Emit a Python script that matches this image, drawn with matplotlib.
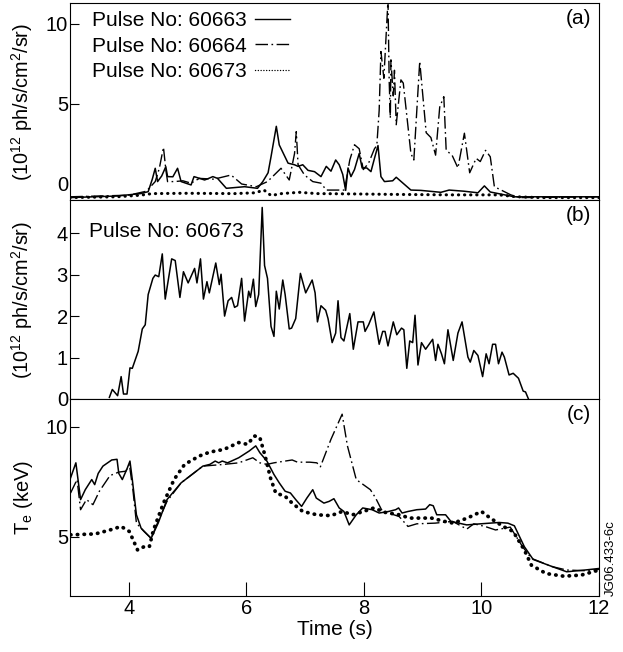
import matplotlib
matplotlib.use("Agg")
import matplotlib.pyplot as plt

plt.rcParams['font.family'] = ['Liberation Sans', 'DejaVu Sans']
plt.rcParams['mathtext.fontset'] = 'custom'
plt.rcParams['mathtext.rm'] = 'Liberation Sans'
plt.rcParams['mathtext.it'] = 'Liberation Sans:italic'
plt.rcParams['font.size'] = 14.5

# ---- panel (a): emission, three pulses ----
a_t_60663 = [3.0, 3.8, 4.2, 4.33, 4.40, 4.45, 4.49, 4.56, 4.63, 4.66, 4.75, 4.83, 4.89, 5.06,
             5.11, 5.29, 5.36, 5.43, 5.51, 5.66, 5.97, 6.19, 6.28, 6.37, 6.42, 6.51, 6.56,
             6.71, 6.82, 6.88, 6.96, 7.05, 7.16, 7.27, 7.36, 7.44, 7.52, 7.58, 7.64, 7.69,
             7.73, 7.78, 7.84, 7.92, 7.97, 8.05, 8.12, 8.18, 8.24, 8.29, 8.35, 8.49, 8.55,
             8.80, 8.97, 9.31, 9.45, 9.70, 9.94, 10.05, 10.15, 10.56, 12.0]
a_v_60663 = [-0.85, -0.75, -0.6, -0.48, 0.3, 0.98, 0.15, 0.5, 1.08, 0.46, 0.45, 0.98, 0.15, -0.06,
             0.46, 0.25, 0.35, 0.46, 0.35, -0.27, -0.17, -0.27, 0.15, 0.7, 1.7, 3.6, 2.44,
             1.3, 1.2, 1.1, 1.2, 0.85, 0.77, 0.46, 1.1, 0.8, 1.5, 1.2, 0.6, -0.4,
             1.0, 0.46, 0.9, 1.9, 1.0, 1.0, 0.77, 1.6, 2.4, 0.46, 0.15, 0.2, 0.42,
             -0.38, -0.4, -0.52, -0.38, -0.45, -0.55, -0.12, -0.5, -0.8, -0.8]

a_t_60664 = [3.0, 4.0, 4.3, 4.45, 4.52, 4.59, 4.63, 4.66, 4.78, 4.92, 5.06, 5.2, 5.45, 5.74,
             5.92, 6.17, 6.36, 6.59, 6.73, 6.82, 6.85, 6.88, 6.99, 7.13, 7.27, 7.36, 7.67,
             7.76, 7.84, 7.92, 7.99, 8.08, 8.18, 8.22, 8.26, 8.29, 8.34, 8.38, 8.41, 8.43,
             8.45, 8.46, 8.50, 8.52, 8.55, 8.63, 8.67, 8.80, 8.85, 8.95, 9.06, 9.14, 9.22,
             9.29, 9.36, 9.40, 9.50, 9.60, 9.71, 9.80, 9.91, 9.98, 10.07, 10.15, 10.22,
             10.50, 10.65, 12.0]
a_v_60664 = [-0.8, -0.7, -0.45, 0.15, 0.98, 2.29, 0.9, 0.15, 0.15, 0.2, 0.05, 0.35, 0.3, 0.56,
             0.0, -0.17, 0.15, 0.98, 0.25, 1.9, 3.27, 1.2, 0.56, 0.15, 0.05, -0.38, -0.38,
             1.5, 2.45, 2.2, 0.9, 1.3, 2.2, 2.4, 4.6, 8.27, 6.6, 9.4, 11.5, 6.5,
             4.1, 7.75, 5.5, 7.1, 3.7, 6.5, 6.3, 1.9, 1.5, 7.65, 3.2, 2.9, 1.8,
             4.8, 5.45, 2.1, 1.8, 1.0, 3.17, 0.7, 1.6, 1.4, 2.1, 1.7, -0.17,
             -0.68, -0.85, -0.8]

a_t_60673 = [3.0, 3.8, 4.2, 4.4, 5.0, 5.8, 6.15, 6.3, 6.42, 6.6, 6.9, 7.2, 7.8, 8.5, 9.5,
             10.3, 10.6, 11.0, 12.0]
a_v_60673 = [-0.85, -0.8, -0.7, -0.6, -0.58, -0.6, -0.55, -0.38, -0.72, -0.6, -0.52, -0.6,
             -0.62, -0.65, -0.68, -0.68, -0.8, -0.85, -0.85]

# ---- panel (b): emission, pulse 60673 ----
b_t = [3.67, 3.72, 3.81, 3.87, 3.91, 3.97, 4.02, 4.06, 4.16, 4.23, 4.28, 4.33, 4.41, 4.45,
       4.51, 4.57, 4.62, 4.73, 4.79, 4.87, 4.93, 5.01, 5.12, 5.16, 5.22, 5.27, 5.33, 5.37,
       5.48, 5.54, 5.57, 5.63, 5.69, 5.75, 5.80, 5.85, 5.92, 5.97, 6.04, 6.07, 6.12, 6.16,
       6.21, 6.27, 6.31, 6.36, 6.42, 6.47, 6.51, 6.56, 6.62, 6.66, 6.73, 6.77, 6.84, 6.92,
       7.01, 7.12, 7.17, 7.21, 7.27, 7.35, 7.39, 7.46, 7.52, 7.56, 7.61, 7.66, 7.76, 7.82,
       7.90, 7.99, 8.02, 8.08, 8.17, 8.26, 8.32, 8.36, 8.41, 8.50, 8.56, 8.64, 8.68, 8.73,
       8.78, 8.83, 8.87, 8.92, 8.98, 9.05, 9.11, 9.17, 9.22, 9.26, 9.32, 9.37, 9.43, 9.52,
       9.60, 9.67, 9.77, 9.81, 9.87, 9.94, 10.02, 10.08, 10.13, 10.19, 10.24, 10.29, 10.35,
       10.39, 10.47, 10.54, 10.63, 10.71, 10.75, 10.80]
b_v = [0.04, 0.23, 0.08, 0.54, 0.12, 0.12, 0.75, 0.74, 1.15, 1.69, 1.79, 2.52, 2.91, 2.99,
       2.95, 3.50, 2.41, 3.38, 3.34, 2.45, 3.07, 2.80, 3.15, 2.80, 3.38, 2.41, 2.83, 2.56,
       3.28, 2.76, 3.01, 2.00, 2.37, 2.45, 2.21, 2.25, 2.91, 1.88, 2.60, 2.45, 2.89, 2.23,
       2.52, 4.62, 3.22, 2.91, 1.75, 1.51, 2.60, 2.17, 2.87, 2.52, 1.69, 1.71, 1.94, 3.03,
       2.56, 2.87, 2.56, 1.86, 2.25, 2.14, 1.94, 1.36, 1.59, 2.37, 1.48, 1.40, 2.06, 1.20,
       1.86, 1.86, 1.63, 1.79, 2.10, 1.32, 1.63, 1.63, 1.28, 1.86, 1.55, 1.71, 1.67, 0.74,
       1.40, 1.36, 2.02, 0.82, 1.36, 1.20, 1.32, 1.44, 0.93, 1.32, 1.09, 0.85, 1.67, 0.93,
       1.59, 1.86, 1.01, 0.89, 1.17, 1.05, 0.54, 1.09, 0.85, 1.32, 1.32, 0.85, 1.13,
       1.01, 0.58, 0.62, 0.50, 0.19, 0.17, 0.0]

# ---- panel (c): electron temperature ----
c_t_60663 = [3.01, 3.10, 3.18, 3.26, 3.37, 3.42, 3.48, 3.56, 3.71, 3.80, 3.83, 3.89, 3.97, 4.02,
             4.06, 4.13, 4.21, 4.38, 4.50, 4.65, 4.89, 5.26, 5.38, 5.47, 5.53, 5.59, 5.68,
             5.87, 6.05, 6.16, 6.23, 6.35, 6.47, 6.56, 6.66, 6.75, 6.84, 6.94, 7.03, 7.13,
             7.19, 7.32, 7.41, 7.49, 7.58, 7.66, 7.75, 7.87, 7.98, 8.14, 8.26, 8.42, 8.54,
             8.59, 8.65, 8.75, 8.90, 9.05, 9.12, 9.18, 9.24, 9.39, 9.48, 9.75, 9.99, 10.30,
             10.45, 10.56, 10.73, 10.88, 11.21, 11.45, 11.76, 12.0]
c_v_60663 = [7.67, 8.35, 6.68, 7.13, 7.59, 7.36, 7.87, 8.20, 8.48, 8.51, 7.87, 7.59, 8.08, 8.43,
             7.59, 5.99, 5.38, 4.92, 5.61, 6.68, 7.44, 8.20, 8.28, 8.43, 8.35, 8.43, 8.35,
             8.58, 8.89, 9.12, 8.81, 8.43, 7.82, 7.44, 7.06, 6.98, 6.68, 6.37, 6.75, 7.13,
             6.75, 6.52, 6.60, 6.72, 6.30, 6.14, 5.53, 5.99, 6.30, 6.22, 6.07, 6.14, 6.22,
             6.30, 6.07, 6.14, 6.22, 6.25, 6.45, 6.40, 5.99, 5.99, 5.69, 5.53, 5.58, 5.64,
             5.61, 5.49, 4.54, 3.96, 3.63, 3.40, 3.48, 3.55]

c_t_60664 = [3.01, 3.12, 3.18, 3.28, 3.39, 3.50, 3.68, 3.83, 3.95, 4.01, 4.07, 4.13, 4.26, 4.38,
             4.50, 4.65, 4.89, 5.26, 5.62, 5.87, 6.11, 6.23, 6.35, 6.47, 6.78, 6.87, 7.08,
             7.20, 7.26, 7.44, 7.63, 7.72, 7.87, 7.99, 8.11, 8.20, 8.30, 8.42, 8.60, 8.75,
             8.90, 9.21, 9.51, 9.75, 9.87, 10.06, 10.24, 10.49, 10.70, 10.85, 11.21, 11.45,
             11.76, 12.0]
c_v_60664 = [6.98, 7.59, 6.22, 6.68, 6.45, 7.06, 7.77, 7.93, 7.97, 8.28, 7.13, 5.61, 5.23, 4.92,
             5.69, 6.60, 7.44, 8.20, 8.28, 8.35, 8.58, 8.35, 8.28, 8.35, 8.48, 8.38, 8.38,
             8.35, 8.17, 9.42, 10.56, 9.12, 7.59, 7.36, 7.13, 6.75, 6.22, 6.07, 5.91, 5.46,
             5.58, 5.61, 5.69, 5.34, 5.58, 5.46, 5.30, 5.43, 4.54, 4.01, 3.63, 3.48,
             3.45, 3.51]

c_t_60673 = [3.01, 3.43, 3.68, 3.87, 4.01, 4.15, 4.26, 4.35, 4.42, 4.59, 4.77, 4.95, 5.20, 5.38,
             5.62, 5.87, 6.02, 6.14, 6.23, 6.32, 6.41, 6.50, 6.66, 6.78, 6.96, 7.20, 7.44,
             7.63, 7.81, 7.99, 8.17, 8.36, 8.60, 8.78, 8.96, 9.15, 9.37, 9.52, 9.76, 10.0,
             10.15, 10.37, 10.54, 10.73, 10.85, 11.10, 11.40, 11.70, 12.0]
c_v_60673 = [5.08, 5.12, 5.30, 5.46, 5.23, 4.39, 4.54, 4.54, 5.30, 6.52, 7.59, 8.28, 8.66, 8.84,
             8.96, 9.27, 9.19, 9.57, 9.50, 8.66, 7.67, 6.98, 6.83, 6.52, 6.14, 5.99, 5.95,
             6.14, 5.99, 6.14, 6.30, 6.10, 5.99, 5.84, 5.84, 5.84, 5.69, 5.61, 5.84, 6.14,
             5.84, 5.46, 5.23, 4.39, 3.70, 3.32, 3.20, 3.25, 3.48]

labels = ['Pulse No: 60663', 'Pulse No: 60664', 'Pulse No: 60673']

solid = dict(color='black', lw=1.1, linestyle='-')
dashdot = dict(color='black', lw=1.0, dashes=(9, 2.5, 1.2, 2.5))
dotted_a = dict(color='black', lw=2.2, linestyle=(0, (0.1, 1.9)), dash_capstyle='round')
dotted_c = dict(color='black', lw=2.7, linestyle=(0, (0.1, 1.7)), dash_capstyle='round')

fig = plt.figure(figsize=(6.23, 6.52), dpi=100)
left, width = 70 / 623, 529 / 623
ax_a = fig.add_axes([left, 1 - 200 / 652, width, 197 / 652])
ax_b = fig.add_axes([left, 1 - 399 / 652, width, 199 / 652])
ax_c = fig.add_axes([left, 1 - 596 / 652, width, 197 / 652])

ax_a.plot(a_t_60663, a_v_60663, label=labels[0], **solid)
ax_a.plot(a_t_60664, a_v_60664, label=labels[1], **dashdot)
ax_a.plot(a_t_60673, a_v_60673, label=labels[2], **dotted_a)
ax_a.set_ylim(-1.0, 11.3)
ax_a.set_yticks([0, 5, 10])
ax_a.yaxis.get_major_ticks()[0].tick1line.set_visible(False)
leg = ax_a.legend(loc='upper left', bbox_to_anchor=(0.041, 0.96), markerfirst=False,
                  frameon=False, handlelength=1.65, handletextpad=0.42, labelspacing=0.32,
                  borderaxespad=0, borderpad=0, fontsize=15)
for h in leg.get_lines():
    h.set_linewidth(1.0)
ax_a.text(0.985, 0.97, '(a)', transform=ax_a.transAxes, ha='right', va='top', fontsize=15)

ax_b.plot(b_t, b_v, **solid)
ax_b.set_ylim(0, 4.8)
ax_b.set_yticks([0, 1, 2, 3, 4])
ax_b.text(0.035, 0.84, 'Pulse No: 60673', transform=ax_b.transAxes, ha='left', va='center',
          fontsize=15)
ax_b.text(0.985, 0.97, '(b)', transform=ax_b.transAxes, ha='right', va='top', fontsize=15)

ax_c.plot(c_t_60663, c_v_60663, **solid)
ax_c.plot(c_t_60664, c_v_60664, **dashdot)
ax_c.plot(c_t_60673, c_v_60673, **dotted_c)
ax_c.set_ylim(2.3, 11.25)
ax_c.set_yticks([5, 10])
ax_c.text(0.985, 0.97, '(c)', transform=ax_c.transAxes, ha='right', va='top', fontsize=15)
ax_c.set_xticks([4, 6, 8, 10, 12])
ax_c.set_xlabel('Time (s)', labelpad=1, fontsize=15)
ax_c.tick_params(axis='x', direction='in', length=10, width=0.8, pad=2.5)

ylabel_flux = r'(10$^{12}$ ph/s/cm$^{2}$/sr)'
ax_a.set_ylabel(ylabel_flux, fontsize=14.3)
ax_b.set_ylabel(ylabel_flux, fontsize=14.3)
ax_c.set_ylabel(r'T$_{\mathrm{e}}$ (keV)', fontsize=14.5)

for ax in (ax_a, ax_b, ax_c):
    ax.set_xlim(3, 12)
    ax.tick_params(axis='y', direction='in', length=6.5, width=0.8, pad=1.5)
    ax.yaxis.set_label_coords(-0.067, 0.5)
    for s in ax.spines.values():
        s.set_linewidth(0.8)
for ax in (ax_a, ax_b):
    ax.tick_params(axis='x', bottom=False, labelbottom=False)

fig.text(0.981, 1 - 596 / 652, 'JG06.433-6c', rotation=90, fontsize=9.5,
         ha='center', va='bottom')

fig.savefig('out.png', dpi=100)
